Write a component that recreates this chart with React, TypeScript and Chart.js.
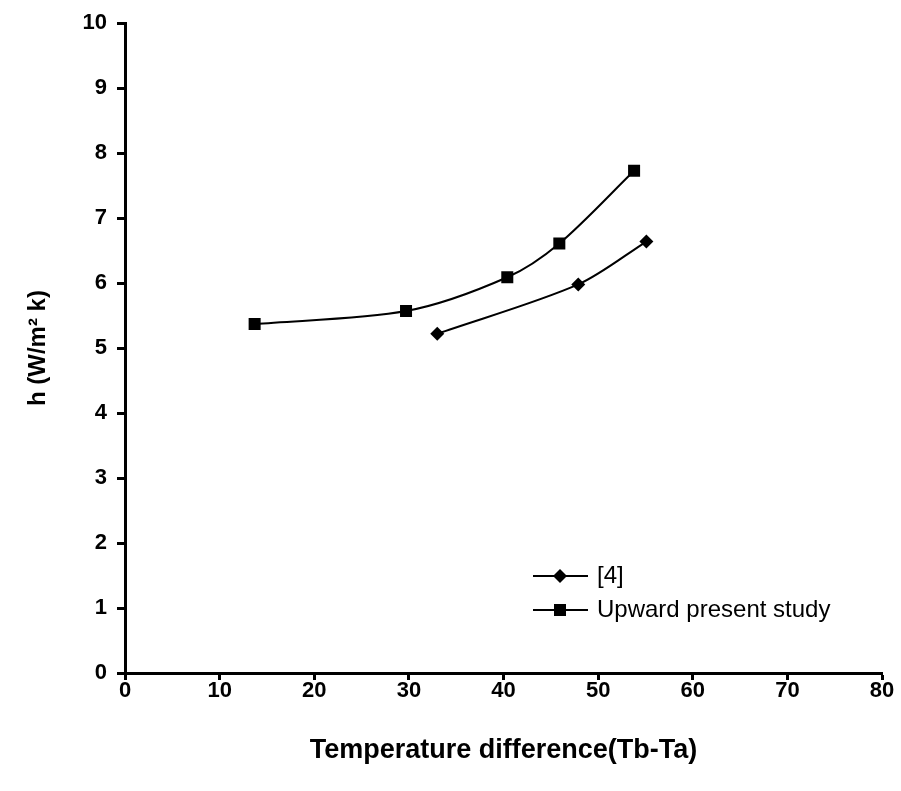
import { useEffect, useRef } from 'react';
import { Chart, registerables } from 'chart.js';

Chart.register(...registerables);

const seriesLabels = ['[4]', 'Upward present study'];
const refX = [33.0, 47.9, 55.1];
const refY = [5.22, 5.98, 6.64];
const upX = [13.7, 29.7, 40.4, 45.9, 53.8];
const upY = [5.37, 5.57, 6.09, 6.61, 7.73];
const xTickValues = [0, 10, 20, 30, 40, 50, 60, 70, 80];
const yTickValues = [0, 1, 2, 3, 4, 5, 6, 7, 8, 9, 10];
const xTitle = 'Temperature difference(Tb-Ta)';
const yTitle = 'h (W/m\u00B2 k)';

const FONT = "'Liberation Sans', Arial, sans-serif";

const legendPlugin = {
  id: 'lineLegend',
  afterDraw(chart: any) {
    const ctx = chart.ctx;
    chart.data.datasets.forEach((ds: any, i: number) => {
      const y = 576 + i * 34;
      ctx.save();
      ctx.strokeStyle = '#000';
      ctx.fillStyle = '#000';
      ctx.lineWidth = 2;
      ctx.beginPath();
      ctx.moveTo(533, y);
      ctx.lineTo(588, y);
      ctx.stroke();
      const cx = 560;
      ctx.beginPath();
      if (ds.pointStyle === 'rectRot') {
        const r = ds.pointRadius;
        ctx.moveTo(cx, y - r);
        ctx.lineTo(cx + r, y);
        ctx.lineTo(cx, y + r);
        ctx.lineTo(cx - r, y);
        ctx.closePath();
      } else {
        const h = ds.pointRadius * Math.SQRT1_2;
        ctx.rect(cx - h, y - h, 2 * h, 2 * h);
      }
      ctx.fill();
      ctx.font = `24px ${FONT}`;
      ctx.textBaseline = 'middle';
      ctx.textAlign = 'left';
      ctx.fillText(ds.label, 597, y);
      ctx.restore();
    });
  },
};

export default function App() {
  const ref = useRef<HTMLCanvasElement | null>(null);
  useEffect(() => {
    document.body.style.margin = '0';
    const canvas = ref.current;
    if (!canvas) return;
    const chart = new Chart(canvas, {
      type: 'scatter',
      data: {
        datasets: [
          {
            label: seriesLabels[0],
            data: refX.map((x, i) => ({ x, y: refY[i] })),
            showLine: true,
            borderColor: '#000',
            backgroundColor: '#000',
            borderWidth: 2,
            tension: 0.3,
            pointStyle: 'rectRot',
            pointRadius: 7,
            pointBorderWidth: 0,
          },
          {
            label: seriesLabels[1],
            data: upX.map((x, i) => ({ x, y: upY[i] })),
            showLine: true,
            borderColor: '#000',
            backgroundColor: '#000',
            borderWidth: 2,
            tension: 0.3,
            pointStyle: 'rect',
            pointRadius: 8.5,
            pointBorderWidth: 0,
          },
        ],
      },
      options: {
        responsive: false,
        animation: false,
        layout: { padding: { left: 0, right: 19, top: 23, bottom: 0 } },
        plugins: {
          legend: { display: false },
          tooltip: { enabled: false },
        },
        scales: {
          x: {
            type: 'linear',
            min: 0,
            max: 80,
            afterBuildTicks: (scale: any) => {
              scale.ticks = xTickValues.map((v) => ({ value: v }));
            },
            afterFit: (scale: any) => {
              scale.height = 118;
            },
            border: { display: true, color: '#000', width: 3 },
            grid: {
              drawOnChartArea: false,
              drawTicks: true,
              tickLength: 7,
              tickColor: '#000',
              tickWidth: 3,
            },
            ticks: {
              color: '#000',
              padding: -2,
              maxRotation: 0,
              font: { family: FONT, size: 22, weight: 'bold' },
            },
            title: {
              display: true,
              text: xTitle,
              color: '#000',
              font: { family: FONT, size: 27, weight: 'bold' },
              padding: { top: 0, bottom: 24 },
            },
          },
          y: {
            type: 'linear',
            min: 0,
            max: 10,
            afterBuildTicks: (scale: any) => {
              scale.ticks = yTickValues.map((v) => ({ value: v }));
            },
            afterFit: (scale: any) => {
              scale.width = 125;
            },
            border: { display: true, color: '#000', width: 3 },
            grid: {
              drawOnChartArea: false,
              drawTicks: true,
              tickLength: 8,
              tickColor: '#000',
              tickWidth: 3,
            },
            ticks: {
              color: '#000',
              padding: 10,
              font: { family: FONT, size: 22, weight: 'bold' },
            },
            title: {
              display: true,
              text: yTitle,
              color: '#000',
              font: { family: FONT, size: 24, weight: 'bold' },
              padding: { top: 24, bottom: 0 },
            },
          },
        },
      },
      plugins: [legendPlugin],
    } as any);
    return () => chart.destroy();
  }, []);
  return (
    <div style={{ width: 901, height: 791, background: '#fff' }}>
      <canvas ref={ref} width={901} height={791} />
    </div>
  );
}
